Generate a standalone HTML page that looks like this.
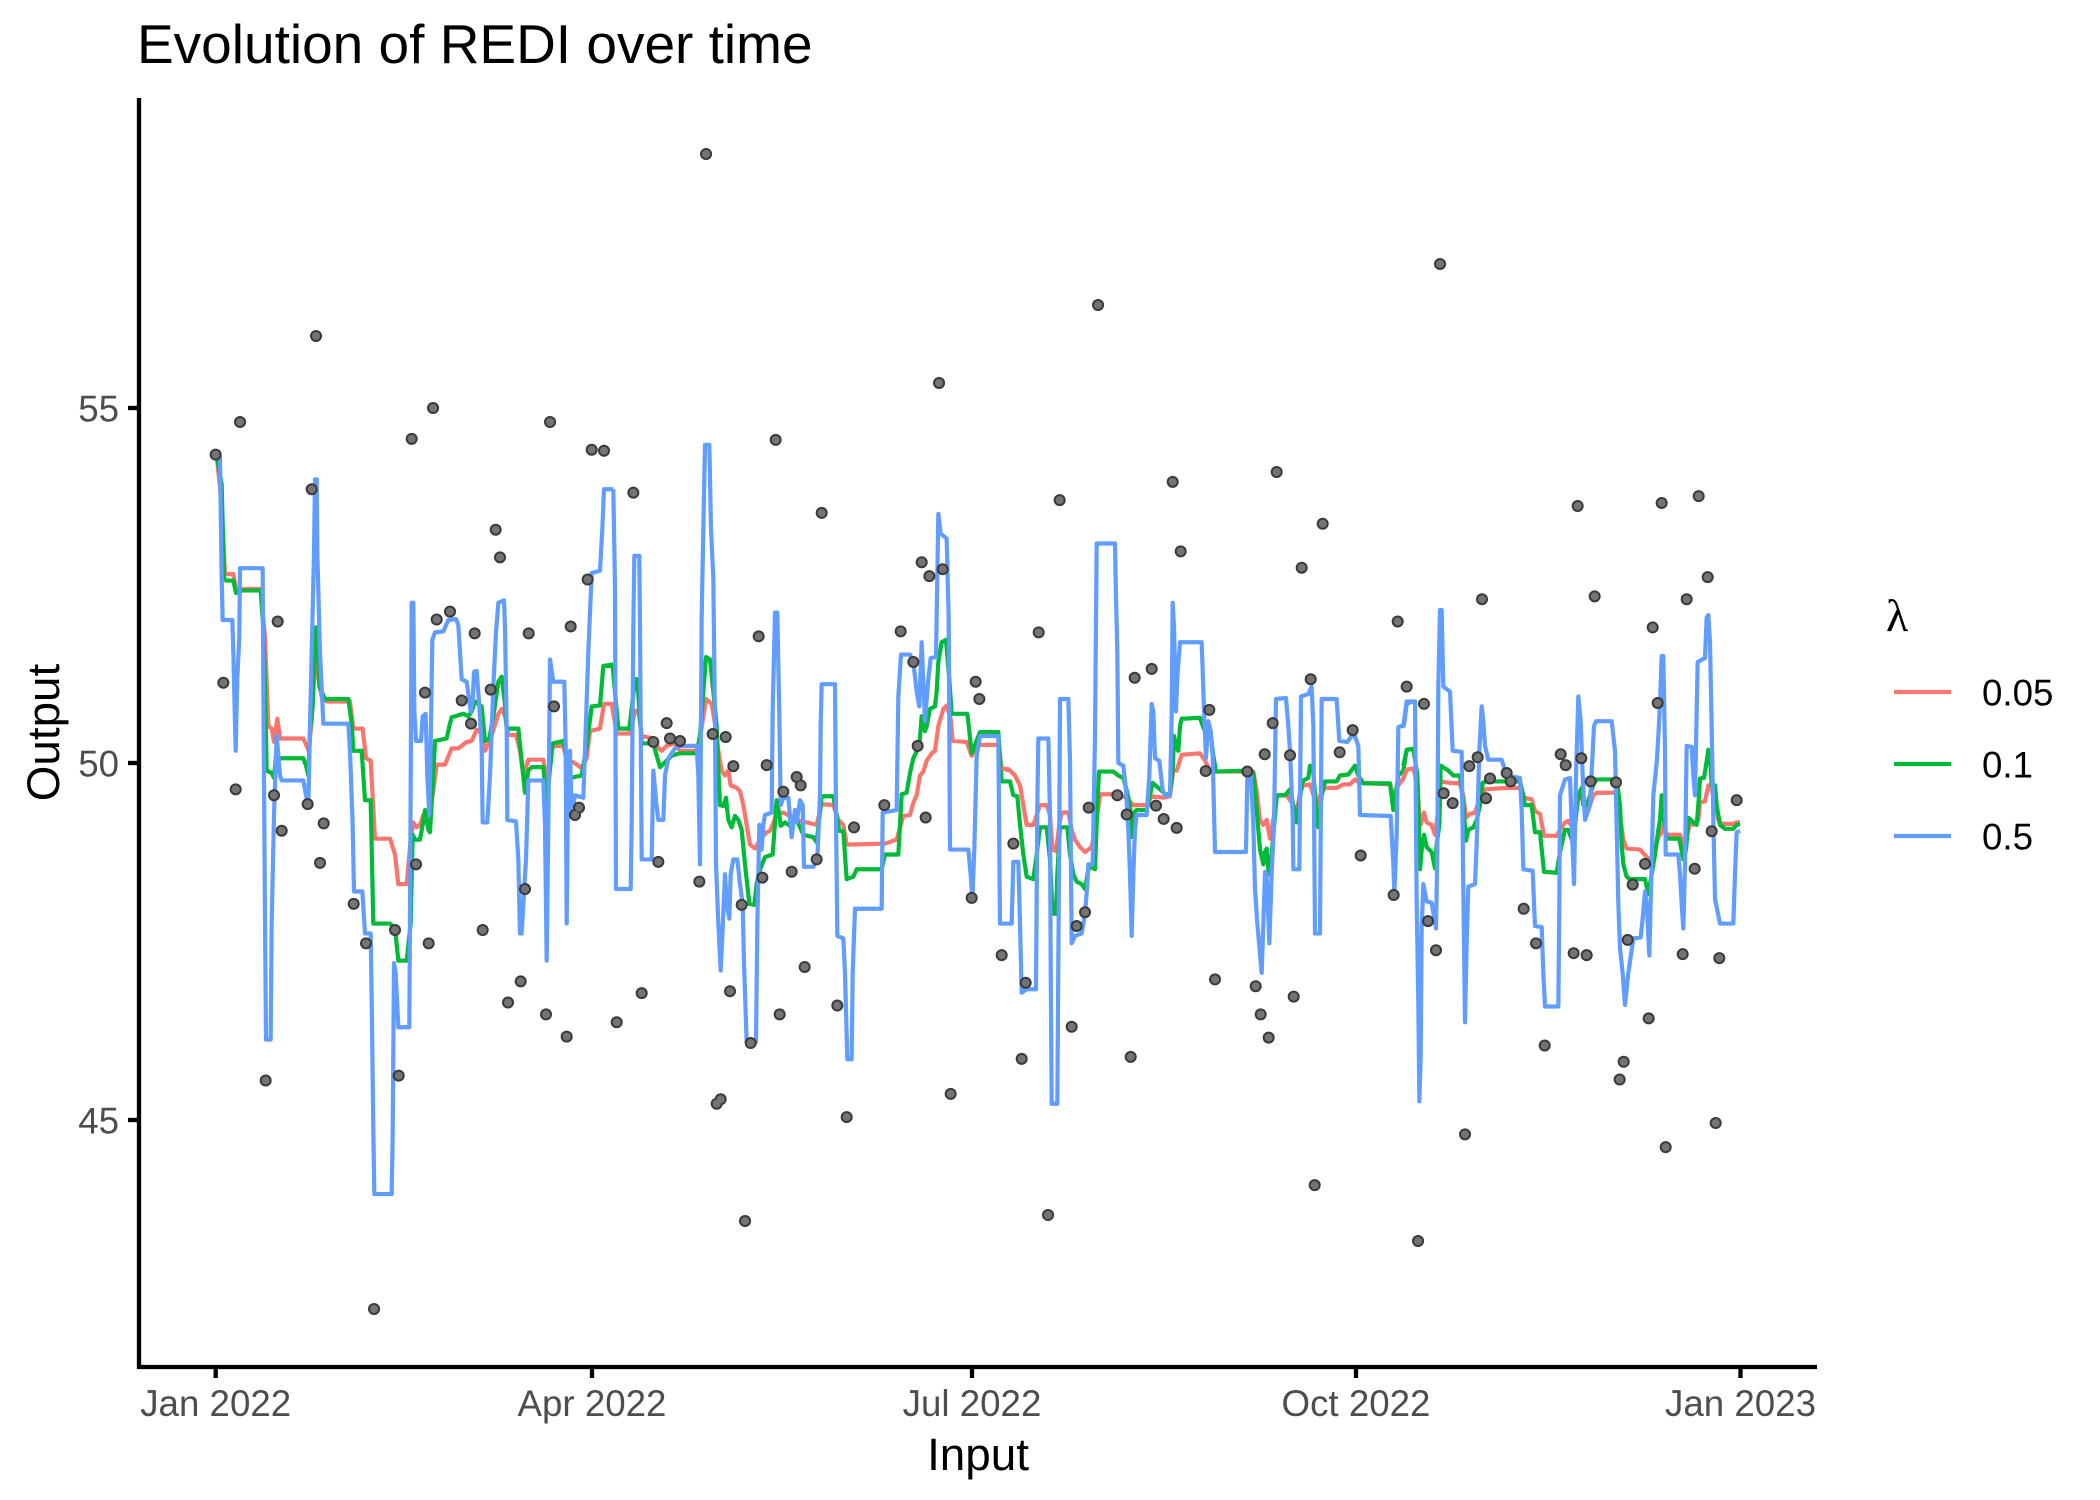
<!DOCTYPE html>
<html>
<head>
<meta charset="utf-8">
<style>
html,body{margin:0;padding:0;background:#fff;}
svg{display:block;}
text{font-family:"Liberation Sans",Arial,sans-serif;}
.bl{fill:none;stroke:#619CFF;stroke-width:4.2;stroke-linejoin:round;}
.gr{fill:none;stroke:#00BA38;stroke-width:4.2;stroke-linejoin:round;}
.rd{fill:none;stroke:#F8766D;stroke-width:4.2;stroke-linejoin:round;}
.po{fill:none;stroke:#3a3a3a;stroke-width:12;stroke-linecap:round;}
.pi{fill:none;stroke:#747474;stroke-width:8;stroke-linecap:round;}
</style>
</head>
<body>
<svg width="2100" height="1500" viewBox="0 0 2100 1500" xmlns="http://www.w3.org/2000/svg">
<rect width="2100" height="1500" fill="#fff"/>

<!-- title -->
<text x="137" y="63" font-size="55" fill="#000">Evolution of REDI over time</text>

<!-- strip A -->
<g transform="translate(200,430) scale(0.33333,0.49358)">
<polyline vector-effect="non-scaling-stroke" class="rd" points="50,52 65,150 75,292 100,292 110,330 128,322 182,322 195,420 205,600 215,605 222,632 232,585 240,625 310,625 320,640 326,650 335,590 345,470 352,490 365,540 380,550 450,550 460,605 488,605 498,665 512,670 525,828 570,828 585,860 595,920 620,920 632,830 640,795 650,805 660,800 670,780 690,775 700,730 710,678 735,678 755,645 775,645 800,632 815,630 830,607 845,615 855,650 870,630 895,575 905,565 915,580 925,618 948,618 960,650 970,700 985,668 1030,668 1040,720 1050,660 1060,640 1090,640 1100,670 1120,673 1145,685 1160,665 1170,610 1200,605 1212,555 1240,555"/>
<polyline vector-effect="non-scaling-stroke" class="gr" points="50,52 65,110 72,300 78,305 100,305 108,330 128,325 182,325 190,400 195,520 200,690 215,695 222,705 228,660 235,665 310,665 318,680 325,700 330,610 338,560 345,400 352,400 358,520 375,545 445,545 455,595 460,650 485,650 495,750 512,750 520,1000 570,1000 585,1010 595,1075 620,1075 632,1000 638,820 645,830 660,830 668,800 675,770 685,810 690,815 698,720 705,630 740,625 748,600 755,582 790,575 805,580 815,570 825,550 845,560 855,630 868,625 880,580 895,510 905,500 915,555 920,605 955,605 965,670 975,735 985,690 995,683 1030,683 1040,760 1045,720 1058,635 1090,630 1100,665 1110,705 1145,700 1160,640 1175,560 1200,558 1210,478 1240,475"/>
<polyline vector-effect="non-scaling-stroke" class="bl" points="50,52 60,55 65,300 68,385 97,385 100,450 107,650 112,500 118,420 120,280 188,280 190,520 195,990 198,1235 212,1235 215,1000 222,780 230,620 240,700 245,710 310,710 318,740 325,760 330,600 335,450 342,250 345,100 350,100 352,250 360,450 370,595 445,595 450,650 458,800 462,935 487,935 495,1020 512,1020 515,1150 520,1420 523,1548 575,1548 578,1430 582,1080 587,1100 595,1210 628,1210 630,980 635,350 640,350 643,570 648,630 663,630 668,580 677,575 682,700 688,780 692,640 697,425 705,410 730,408 745,385 768,383 775,395 785,505 800,510 812,570 818,550 822,490 830,488 838,560 845,640 848,795 862,795 870,700 880,520 888,410 895,350 912,345 915,400 920,600 922,790 948,793 955,870 960,1020 965,1020 970,960 978,870 985,710 1030,710 1035,800 1040,1075 1045,800 1050,465 1060,510 1093,510 1097,640 1100,1000 1105,680 1110,650 1115,780 1125,740 1150,745 1160,550 1165,450 1175,290 1200,285 1207,200 1212,120 1240,120"/>
</g>

<!-- strip B -->
<g transform="translate(600,430) scale(0.33333,0.49358)">
<polyline vector-effect="non-scaling-stroke" class="rd" points="10,555 35,555 50,615 90,615 105,570 115,567 125,620 160,625 175,645 185,650 200,640 225,635 240,650 290,650 300,625 318,545 335,555 345,595 355,650 365,690 375,700 385,690 392,720 410,725 420,732 430,760 440,800 450,840 465,848 480,830 500,815 510,812 530,780 550,775 590,790 650,800 665,758 700,760 715,790 730,800 740,840 855,838 890,830 910,782 930,780 940,755 950,740 960,700 970,692 980,670 995,655 1005,650 1015,600 1030,565 1040,558 1052,585 1058,630 1100,632 1115,660 1125,645 1140,638 1195,638 1205,685 1230,688"/>
<polyline vector-effect="non-scaling-stroke" class="gr" points="10,478 38,478 55,605 88,605 105,505 112,505 125,635 160,635 170,660 180,683 200,670 215,660 240,655 290,655 300,620 318,460 330,465 340,530 350,600 355,690 360,760 370,762 378,745 385,790 395,805 405,782 415,790 425,810 435,880 448,960 463,962 470,920 480,890 495,865 518,860 530,750 538,780 542,802 555,795 570,802 590,790 610,820 640,825 650,835 665,742 700,742 718,812 730,813 740,910 760,905 770,890 845,890 855,860 895,860 905,738 920,735 930,695 940,665 958,640 965,580 975,610 980,600 990,565 1005,560 1010,530 1015,470 1025,430 1038,425 1048,505 1055,575 1102,575 1108,610 1115,655 1125,638 1140,612 1195,612 1205,712 1225,712"/>
<polyline vector-effect="non-scaling-stroke" class="bl" points="40,120 45,320 48,930 92,930 95,800 100,400 103,255 118,255 120,400 125,870 155,870 160,690 168,750 175,790 190,790 195,700 205,665 225,645 240,640 290,640 295,700 300,880 305,380 310,200 315,30 328,30 333,200 340,300 345,600 348,880 355,1000 362,1095 368,1010 375,900 380,960 388,990 392,900 400,870 412,870 420,920 428,960 432,1080 440,1240 468,1240 472,1000 478,800 485,850 490,800 495,780 515,775 518,570 525,370 532,370 538,580 542,760 550,745 565,745 575,825 585,770 590,795 600,750 608,760 612,885 640,885 652,870 660,740 662,600 665,515 705,515 708,780 712,1025 730,1030 735,1100 742,1275 755,1275 758,1100 765,970 845,970 848,775 890,770 895,540 903,455 930,455 940,470 950,530 958,560 965,430 975,590 985,505 992,462 1008,460 1015,170 1022,210 1040,220 1046,380 1050,850 1105,850 1112,900 1117,950 1123,850 1130,660 1140,620 1195,620 1200,1000 1230,1000"/>
</g>

<!-- strip C -->
<g transform="translate(1000,430) scale(0.33333,0.49358)">
<polyline vector-effect="non-scaling-stroke" class="rd" points="5,685 30,690 45,700 60,720 70,760 80,800 100,800 110,780 120,760 140,760 150,780 158,850 168,853 178,800 185,775 205,775 215,810 225,830 240,845 255,855 275,845 290,790 300,738 350,738 378,745 400,760 440,760 455,742 490,745 510,742 520,690 530,690 545,658 600,655 615,670 630,690 645,692 760,692 770,730 780,790 790,800 800,790 810,828 820,790 830,740 860,740 880,760 890,775 900,735 910,720 930,718 950,760 960,740 975,725 1010,725 1030,718 1050,718 1065,708 1080,715 1170,718 1180,740 1195,720 1210,706 1220,688 1240,686"/>
<polyline vector-effect="non-scaling-stroke" class="gr" points="5,712 30,712 40,740 52,742 60,800 70,860 80,905 100,910 110,860 120,805 140,805 150,870 158,980 168,980 172,900 180,805 202,805 210,860 220,900 230,915 245,920 255,930 265,890 275,885 285,890 292,760 297,692 340,692 355,700 370,705 380,730 390,760 395,825 402,775 410,770 440,770 450,740 458,715 480,728 500,740 510,735 518,690 522,620 530,645 535,650 540,600 545,585 600,583 610,603 615,610 630,605 640,660 648,692 740,690 760,695 770,770 780,850 790,880 795,855 800,848 805,890 810,900 820,820 830,745 835,740 855,740 870,728 880,760 890,795 895,770 905,720 910,710 925,705 930,680 940,695 950,780 955,805 965,740 975,712 1010,712 1020,700 1045,698 1065,680 1075,700 1090,716 1170,716 1180,770 1195,700 1210,690 1220,648 1240,646"/>
<polyline vector-effect="non-scaling-stroke" class="bl" points="0,1000 35,1000 40,875 55,875 60,1000 65,1140 80,1133 108,1133 112,760 115,625 145,625 150,780 152,1075 155,1365 172,1365 175,1075 178,800 180,545 205,545 210,670 215,1040 225,1025 245,1020 255,980 262,920 265,880 278,880 285,620 290,230 345,230 348,340 352,450 355,675 370,680 378,730 385,810 390,900 395,1025 400,900 405,810 410,780 440,780 448,700 455,555 460,570 465,665 478,670 488,730 495,740 510,740 515,580 518,350 522,400 528,570 532,500 540,430 605,430 612,565 618,665 625,590 632,610 638,660 645,855 738,855 742,700 752,690 760,800 765,930 772,1000 785,1100 790,1000 795,895 800,900 808,1040 815,900 822,800 828,545 858,543 865,600 870,650 878,780 880,890 898,890 903,540 925,535 935,520 940,600 945,1020 960,1020 965,545 1010,545 1018,630 1042,632 1055,620 1062,615 1075,640 1080,780 1172,782 1180,880 1183,940 1190,820 1195,602 1212,598 1220,555 1238,550"/>
</g>

<!-- strip D -->
<g transform="translate(1400,430) scale(0.33333,0.49358)">
<polyline vector-effect="non-scaling-stroke" class="rd" points="10,706 20,688 40,686 52,720 58,780 62,800 72,775 80,795 95,800 105,820 115,770 122,712 150,715 180,716 190,740 198,785 210,778 225,775 240,745 255,728 320,725 360,725 370,745 395,748 405,772 420,778 432,822 470,822 480,810 495,795 505,792 518,805 525,790 535,745 545,745 555,765 570,760 580,740 590,735 650,735 660,780 670,830 680,848 720,850 740,865 755,875 765,850 775,825 785,815 790,800 800,820 840,820 850,840 860,825 870,795 880,800 895,790 900,755 915,752 925,720 935,730 945,745 955,790 965,798 1000,798 1010,795 1020,795"/>
<polyline vector-effect="non-scaling-stroke" class="gr" points="10,680 20,648 40,646 52,700 55,760 60,890 65,850 72,820 80,845 95,855 105,888 110,840 118,800 122,680 145,690 160,700 180,700 190,760 198,832 205,810 220,805 230,790 240,760 248,715 258,712 360,712 370,740 375,760 395,760 405,815 420,815 432,895 470,897 480,855 495,810 505,810 518,835 525,800 535,740 545,725 550,760 560,760 570,740 580,718 590,708 650,708 660,760 665,840 670,880 680,905 690,910 735,910 745,940 755,900 765,860 775,810 780,790 785,740 790,780 800,828 838,828 850,870 858,850 866,786 880,795 890,800 895,760 900,706 912,705 918,680 925,648 930,660 935,720 945,720 950,760 960,800 975,808 1000,808 1010,800 1020,798"/>
<polyline vector-effect="non-scaling-stroke" class="bl" points="0,600 10,600 20,550 45,550 50,955 55,1160 58,1360 62,1270 65,1010 70,920 80,955 95,958 103,990 108,1010 112,850 115,520 120,365 125,365 130,520 150,530 158,650 185,652 190,930 195,1200 200,1040 205,925 225,920 230,840 238,650 245,560 250,590 255,640 265,668 305,668 315,690 320,700 360,705 365,770 370,890 398,893 405,1005 425,1007 430,1100 435,1168 475,1168 478,960 480,740 495,708 510,705 518,850 522,920 528,700 535,540 542,590 548,700 555,790 570,760 582,600 588,590 635,590 645,650 650,800 655,960 660,1050 668,1100 675,1165 685,1100 700,1030 722,1028 728,990 735,935 740,960 748,1065 752,960 760,740 770,675 775,620 780,555 785,458 790,458 795,650 797,860 835,860 840,900 845,960 850,1010 855,880 860,640 875,642 880,700 885,740 893,470 915,462 920,380 925,375 930,430 935,600 940,790 945,950 960,1000 1000,1000 1005,900 1010,815 1020,812"/>
</g>

<!-- points -->
<g transform="translate(200,430) scale(0.33333,0.49358)">
<path vector-effect="non-scaling-stroke" class="po" d="M47 50h.1M635 18h.1M1175 40h.1M335 120h.1M887 202h.1M900 258h.1M1163 303h.1M233 388h.1M710 384h.1M750 368h.1M824 412h.1M986 412h.1M1112 398h.1M70 512h.1M675 532h.1M785 548h.1M872 526h.1M1062 560h.1M813 595h.1M107 728h.1M222 740h.1M323 758h.1M245 812h.1M371 797h.1M1137 765h.1M1125 780h.1M360 877h.1M648 880h.1M975 930h.1M461 960h.1M585 1013h.1M498 1040h.1M686 1040h.1M848 1013h.1M962 1117h.1M924 1160h.1M1038 1184h.1M1100 1229h.1M197 1318h.1M596 1308h.1"/>
<path vector-effect="non-scaling-stroke" class="pi" d="M47 50h.1M635 18h.1M1175 40h.1M335 120h.1M887 202h.1M900 258h.1M1163 303h.1M233 388h.1M710 384h.1M750 368h.1M824 412h.1M986 412h.1M1112 398h.1M70 512h.1M675 532h.1M785 548h.1M872 526h.1M1062 560h.1M813 595h.1M107 728h.1M222 740h.1M323 758h.1M245 812h.1M371 797h.1M1137 765h.1M1125 780h.1M360 877h.1M648 880h.1M975 930h.1M461 960h.1M585 1013h.1M498 1040h.1M686 1040h.1M848 1013h.1M962 1117h.1M924 1160h.1M1038 1184h.1M1100 1229h.1M197 1318h.1M596 1308h.1"/>
</g>
<g transform="translate(600,430) scale(0.33333,0.49358)">
<path vector-effect="non-scaling-stroke" class="po" d="M12 42h.1M527 20h.1M100 127h.1M665 168h.1M965 268h.1M988 296h.1M1028 282h.1M902 408h.1M476 418h.1M940 470h.1M1127 510h.1M1138 545h.1M200 594h.1M210 625h.1M240 630h.1M160 632h.1M338 616h.1M377 622h.1M400 681h.1M500 679h.1M590 703h.1M602 720h.1M550 733h.1M762 805h.1M977 785h.1M853 760h.1M953 640h.1M175 875h.1M298 915h.1M650 870h.1M575 895h.1M487 907h.1M425 962h.1M1115 948h.1M614 1088h.1M125 1141h.1M50 1200h.1M390 1137h.1M539 1184h.1M712 1166h.1M452 1242h.1M350 1365h.1M362 1356h.1M1052 1345h.1M740 1392h.1"/>
<path vector-effect="non-scaling-stroke" class="pi" d="M12 42h.1M527 20h.1M100 127h.1M665 168h.1M965 268h.1M988 296h.1M1028 282h.1M902 408h.1M476 418h.1M940 470h.1M1127 510h.1M1138 545h.1M200 594h.1M210 625h.1M240 630h.1M160 632h.1M338 616h.1M377 622h.1M400 681h.1M500 679h.1M590 703h.1M602 720h.1M550 733h.1M762 805h.1M977 785h.1M853 760h.1M953 640h.1M175 875h.1M298 915h.1M650 870h.1M575 895h.1M487 907h.1M425 962h.1M1115 948h.1M614 1088h.1M125 1141h.1M50 1200h.1M390 1137h.1M539 1184h.1M712 1166h.1M452 1242h.1M350 1365h.1M362 1356h.1M1052 1345h.1M740 1392h.1"/>
</g>
<g transform="translate(1000,430) scale(0.33333,0.49358)">
<path vector-effect="non-scaling-stroke" class="po" d="M179 142h.1M518 105h.1M830 85h.1M968 190h.1M542 246h.1M905 279h.1M116 410h.1M1193 388h.1M404 502h.1M455 484h.1M932 505h.1M628 567h.1M818 594h.1M794 657h.1M870 659h.1M1019 653h.1M1058 608h.1M617 691h.1M742 692h.1M352 740h.1M266 765h.1M380 779h.1M468 761h.1M491 788h.1M530 806h.1M40 838h.1M1082 862h.1M1181 942h.1M255 977h.1M230 1005h.1M5 1064h.1M77 1120h.1M645 1113h.1M767 1127h.1M881 1148h.1M782 1184h.1M806 1231h.1M215 1209h.1M65 1274h.1M392 1270h.1M944 1530h.1"/>
<path vector-effect="non-scaling-stroke" class="pi" d="M179 142h.1M518 105h.1M830 85h.1M968 190h.1M542 246h.1M905 279h.1M116 410h.1M1193 388h.1M404 502h.1M455 484h.1M932 505h.1M628 567h.1M818 594h.1M794 657h.1M870 659h.1M1019 653h.1M1058 608h.1M617 691h.1M742 692h.1M352 740h.1M266 765h.1M380 779h.1M468 761h.1M491 788h.1M530 806h.1M40 838h.1M1082 862h.1M1181 942h.1M255 977h.1M230 1005h.1M5 1064h.1M77 1120h.1M645 1113h.1M767 1127h.1M881 1148h.1M782 1184h.1M806 1231h.1M215 1209h.1M65 1274h.1M392 1270h.1M944 1530h.1"/>
</g>
<g transform="translate(1400,430) scale(0.33333,0.49358)">
<path vector-effect="non-scaling-stroke" class="po" d="M533 154h.1M785 148h.1M896 134h.1M923 298h.1M584 337h.1M860 343h.1M246 343h.1M758 400h.1M20 520h.1M72 555h.1M773 553h.1M482 657h.1M497 679h.1M544 665h.1M233 663h.1M208 681h.1M320 695h.1M332 712h.1M270 706h.1M572 712h.1M648 714h.1M131 736h.1M158 756h.1M258 746h.1M1010 750h.1M935 813h.1M735 879h.1M884 889h.1M698 921h.1M371 970h.1M84 995h.1M408 1040h.1M108 1054h.1M683 1033h.1M521 1060h.1M560 1064h.1M848 1062h.1M958 1070h.1M746 1192h.1M434 1247h.1M671 1280h.1M659 1316h.1M195 1427h.1M947 1404h.1M797 1453h.1"/>
<path vector-effect="non-scaling-stroke" class="pi" d="M533 154h.1M785 148h.1M896 134h.1M923 298h.1M584 337h.1M860 343h.1M246 343h.1M758 400h.1M20 520h.1M72 555h.1M773 553h.1M482 657h.1M497 679h.1M544 665h.1M233 663h.1M208 681h.1M320 695h.1M332 712h.1M270 706h.1M572 712h.1M648 714h.1M131 736h.1M158 756h.1M258 746h.1M1010 750h.1M935 813h.1M735 879h.1M884 889h.1M698 921h.1M371 970h.1M84 995h.1M408 1040h.1M108 1054h.1M683 1033h.1M521 1060h.1M560 1064h.1M848 1062h.1M958 1070h.1M746 1192h.1M434 1247h.1M671 1280h.1M659 1316h.1M195 1427h.1M947 1404h.1M797 1453h.1"/>
</g>
<g>
<path class="po" d="M706 154h.1M316 336h.1M240 422h.1M433 408h.1M550 422h.1M939 383h.1M1098 305h.1M1440 264h.1M374 1309h.1M745 1221h.1M1048 1215h.1M1418 1241h.1"/>
<path class="pi" d="M706 154h.1M316 336h.1M240 422h.1M433 408h.1M550 422h.1M939 383h.1M1098 305h.1M1440 264h.1M374 1309h.1M745 1221h.1M1048 1215h.1M1418 1241h.1"/>
</g>

<!-- axes -->
<g stroke="#000" stroke-width="4.3" fill="none">
<line x1="139" y1="98" x2="139" y2="1369"/>
<line x1="137" y1="1367" x2="1817" y2="1367"/>
<line x1="128" y1="408" x2="139" y2="408"/>
<line x1="128" y1="763" x2="139" y2="763"/>
<line x1="128" y1="1120" x2="139" y2="1120"/>
<line x1="215.7" y1="1367" x2="215.7" y2="1378"/>
<line x1="592" y1="1367" x2="592" y2="1378"/>
<line x1="972" y1="1367" x2="972" y2="1378"/>
<line x1="1356" y1="1367" x2="1356" y2="1378"/>
<line x1="1740.5" y1="1367" x2="1740.5" y2="1378"/>
</g>

<!-- tick labels -->
<g font-size="36.7" fill="#4D4D4D">
<text x="119" y="421.4" text-anchor="end">55</text>
<text x="119" y="776.4" text-anchor="end">50</text>
<text x="119" y="1133.4" text-anchor="end">45</text>
<text x="215.7" y="1416" text-anchor="middle">Jan 2022</text>
<text x="592" y="1416" text-anchor="middle">Apr 2022</text>
<text x="972" y="1416" text-anchor="middle">Jul 2022</text>
<text x="1356" y="1416" text-anchor="middle">Oct 2022</text>
<text x="1740.5" y="1416" text-anchor="middle">Jan 2023</text>
</g>

<!-- axis titles -->
<text x="978" y="1470" font-size="45.8" text-anchor="middle" fill="#000">Input</text>
<text transform="translate(59,732.5) rotate(-90)" font-size="45.8" text-anchor="middle" fill="#000">Output</text>

<!-- legend -->
<text x="1886" y="631" font-size="46" fill="#000" style="font-family:'Liberation Serif','DejaVu Serif',serif;">λ</text>
<line x1="1894" y1="692" x2="1951" y2="692" stroke="#F8766D" stroke-width="4.2"/>
<line x1="1894" y1="764" x2="1951" y2="764" stroke="#00BA38" stroke-width="4.2"/>
<line x1="1894" y1="836" x2="1951" y2="836" stroke="#619CFF" stroke-width="4.2"/>
<g font-size="36.7" fill="#000">
<text x="1982" y="705.4">0.05</text>
<text x="1982" y="777.4">0.1</text>
<text x="1982" y="849.4">0.5</text>
</g>
</svg>
</body>
</html>
